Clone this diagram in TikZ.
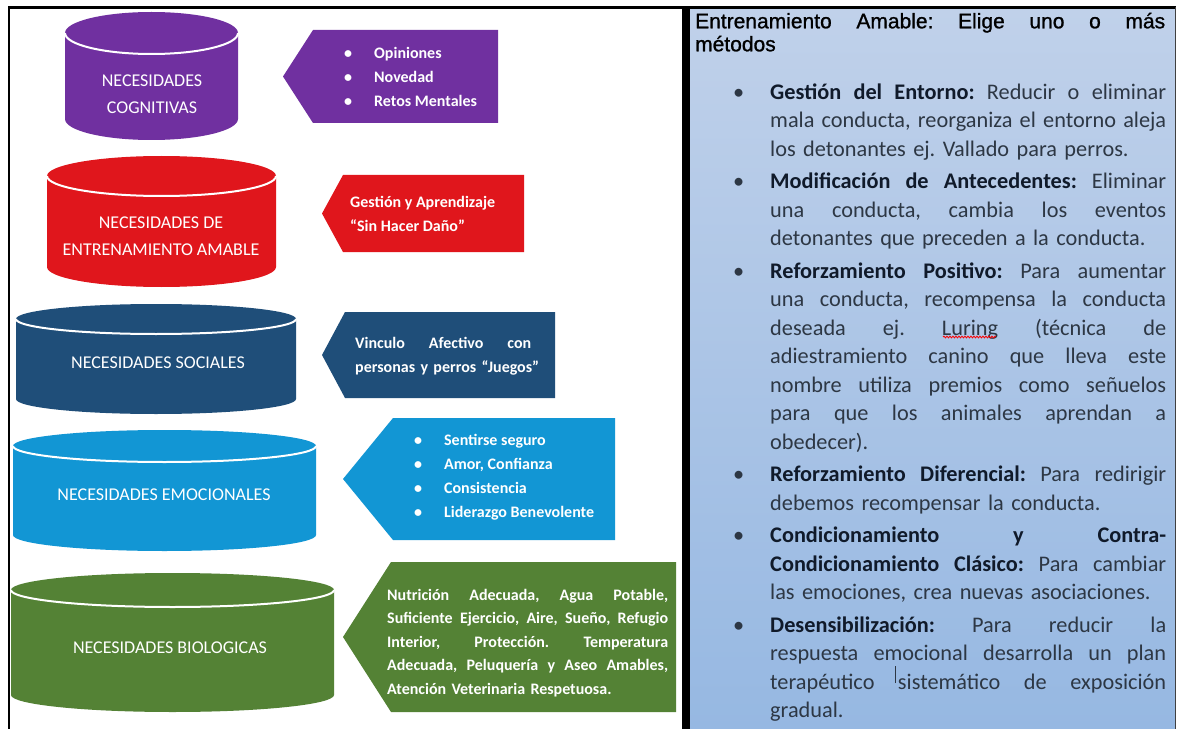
\documentclass[tikz,border=0pt]{standalone}
\usepackage{fontspec}
\setmainfont{Carlito}
\newfontfamily\titlefont[FakeBold=1]{Liberation Sans}
\usetikzlibrary{decorations.pathmorphing}
\frenchspacing
\definecolor{cogpurple}{RGB}{112,48,160}
\definecolor{trainred}{RGB}{224,22,28}
\definecolor{socialblue}{RGB}{31,78,121}
\definecolor{emoblue}{RGB}{18,150,212}
\definecolor{biogreen}{RGB}{84,130,53}
\definecolor{paneltop}{RGB}{192,209,234}
\definecolor{panelbot}{RGB}{150,184,226}
\definecolor{bodytext}{RGB}{45,55,68}
\definecolor{boldtext}{RGB}{16,26,42}
% can: colour, left, right, top, bottom, y radius
\newcommand\drawcan[6]{%
  \fill[#1] (#2,#4+#6) -- (#2,#5-#6)
    arc[start angle=180,end angle=0,x radius={(#3-#2)/2},y radius=#6]
    -- (#3,#4+#6)
    arc[start angle=0,end angle=-180,x radius={(#3-#2)/2},y radius=#6] -- cycle;
  \draw[white,line width=2bp] (#2,#4+#6)
    arc[start angle=180,end angle=0,x radius={(#3-#2)/2},y radius=#6];}
% arrow box: colour, tip, corner, right, top, bottom
\newcommand\pentarrow[6]{%
  \fill[#1] (#2,{(#5+#6)/2}) -- (#3,#5) -- (#4,#5) -- (#4,#6) -- (#3,#6) -- cycle;}
\newcommand\hd[1]{\textbf{\color{boldtext}#1}}
% justified line of given width
\newcommand\jl[2][396bp]{\leavevmode\hbox to #1{\spaceskip=0.23em plus 1fil\relax #2}}
\newcommand\bul{\leavevmode\llap{\textbullet\hspace{26bp}}}
\newcommand\tb{\textbullet\hspace{22bp}}
\newcommand\caret{\kern-3bp\rule[6bp]{0.8bp}{17bp}\kern2bp}
\begin{document}
\begin{tikzpicture}[x=1bp,y=-1bp,
  cantext/.style={text=white,align=center,font=\fontsize{18bp}{27bp}\selectfont},
  tagtext/.style={text=white,anchor=west,inner sep=0,align=left,
    font=\bfseries\fontsize{16bp}{24bp}\selectfont},
  every node/.style={execute at begin node=\setlength{\parindent}{0pt}}]
\useasboundingbox (0,0) rectangle (1179,729);
\fill[white] (0,0) rectangle (1179,729);
% right panel and frame
\shade[top color=paneltop,bottom color=panelbot] (690,9) rectangle (1175,729);
\draw[line width=2.5bp] (8,7.5) -- (1176,7.5);
\draw[line width=2bp] (9,7) -- (9,729);
\fill (682,7) rectangle (690,729);
\draw[line width=1.2bp,black!75] (1175.5,7) -- (1175.5,729);
% cans
\drawcan{cogpurple}{65}{238}{12}{140}{21}
\drawcan{trainred}{47}{276}{156}{287}{20}
\drawcan{socialblue}{16}{296}{304}{414}{15}
\drawcan{emoblue}{13}{316}{430}{551}{16}
\drawcan{biogreen}{11}{334}{573}{712}{17}
\node[cantext] (cog) at (152,94) {NECESIDADES\\COGNITIVAS};
\node[cantext] (train) at (161,236) {NECESIDADES DE\\ENTRENAMIENTO AMABLE};
\node[cantext] (social) at (158,363) {NECESIDADES SOCIALES};
\node[cantext] (emo) at (164,495) {NECESIDADES EMOCIONALES};
\node[cantext] (bio) at (170,648) {NECESIDADES BIOLOGICAS};
% arrow boxes
\pentarrow{cogpurple}{283}{313}{498}{30}{123}
\pentarrow{trainred}{322}{343}{524}{175}{252}
\pentarrow{socialblue}{322}{345}{555}{312}{398}
\pentarrow{emoblue}{343}{393}{615}{418}{540}
\pentarrow{biogreen}{343}{391}{676}{562}{712}
\node[tagtext] (cogtag) at (344,77) {\tb Opiniones\\\tb Novedad\\\tb Retos Mentales};
\node[tagtext] (traintag) at (350,214) {Gestión y Aprendizaje\\“Sin Hacer Daño”};
\node[tagtext,text width=200bp] (socialtag) at (355,356)
  {\jl[176bp]{Vinculo Afectivo con}\\personas y perros “Juegos”};
\node[tagtext] (emotag) at (414,477)
  {\tb Sentirse seguro\\\tb Amor, Confianza\\\tb Consistencia\\\tb Liderazgo Benevolente};
\node[tagtext,text width=290bp,font=\bfseries\fontsize{16bp}{23.5bp}\selectfont] (biotag) at (387,643)
  {\jl[281bp]{Nutrición Adecuada, Agua Potable,}\\
   \jl[281bp]{Suficiente Ejercicio, Aire, Sueño, Refugio}\\
   \jl[281bp]{Interior, Protección. Temperatura}\\
   \jl[281bp]{Adecuada, Peluquería y Aseo Amables,}\\
   Atención Veterinaria Respetuosa.};
% right panel text
\node[anchor=north west,inner sep=0,text width=475bp,align=left,
  font=\titlefont\fontsize{21bp}{23bp}\selectfont] (title) at (695,12)
  {\strut\jl[470bp]{Entrenamiento Amable: Elige uno o más}\\métodos};
\node[anchor=north west,inner sep=0,text width=400bp,align=left,text=bodytext,
  font=\fontsize{22.3bp}{28.5bp}\selectfont] (methods) at (770,79)
  {\strut\bul\jl{\hd{Gestión del Entorno:} Reducir o eliminar}\\
   \jl{mala conducta, reorganiza el entorno aleja}\\
   los detonantes ej. Vallado para perros.\\[4bp]%
   \bul\jl{\hd{Modificación de Antecedentes:} Eliminar}\\
   \jl{una conducta, cambia los eventos}\\
   detonantes que preceden a la conducta.\\[4bp]%
   \bul\jl{\hd{Reforzamiento Positivo:} Para aumentar}\\
   \jl{una conducta, recompensa la conducta}\\
   \jl{deseada ej. Luring (técnica de}\\
   \jl{adiestramiento canino que lleva este}\\
   \jl{nombre utiliza premios como señuelos}\\
   \jl{para que los animales aprendan a}\\
   obedecer).\\[4bp]%
   \bul\jl{\hd{Reforzamiento Diferencial:} Para redirigir}\\
   debemos recompensar la conducta.\\[4bp]%
   \bul\jl{\hd{Condicionamiento y Contra-}}\\
   \jl{\hd{Condicionamiento Clásico:} Para cambiar}\\
   las emociones, crea nuevas asociaciones.\\[4bp]%
   \bul\jl{\hd{Desensibilización:} Para reducir la}\\
   \jl{respuesta emocional desarrolla un plan}\\
   \jl{terapéutico \caret sistemático de exposición}\\
   gradual.};
% spelling mark under Luring
\draw[red,line width=0.8bp,decorate,decoration={snake,amplitude=0.9bp,segment length=3bp}]
  (943,337) -- (996,337);
\end{tikzpicture}
\end{document}
